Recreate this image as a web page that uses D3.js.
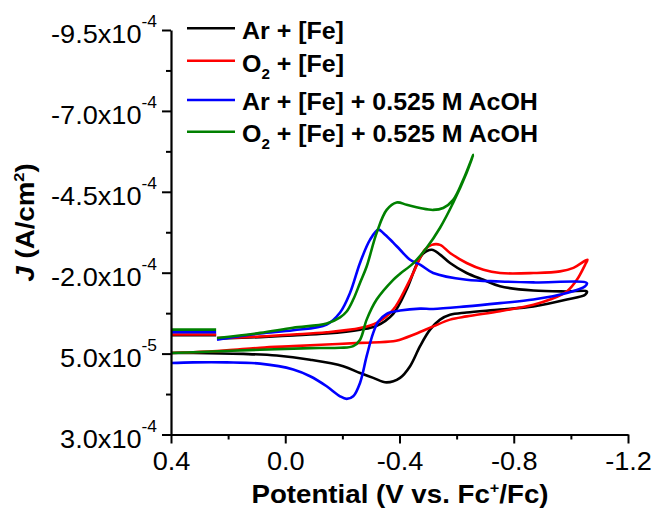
<!DOCTYPE html>
<html>
<head>
<meta charset="utf-8">
<script src="https://cdn.jsdelivr.net/npm/d3@7"></script>
<style>
  html, body { margin: 0; padding: 0; background: #fff; }
  svg { display: block; font-family: "Liberation Sans", Arial, sans-serif; }
</style>
</head>
<body>
<svg id="chart" width="656" height="508"></svg>
<script>
// ---------- data (V vs Fc+/Fc, J in A/cm^2) ----------
const xTicks = [0.4, 0.0, -0.4, -0.8, -1.2];
const xTickLabels = ["0.4", "0.0", "-0.4", "-0.8", "-1.2"];
const xMinorTicks = [0.2, -0.2, -0.6, -1.0];
const yTicks = [-9.5e-4, -7.0e-4, -4.5e-4, -2.0e-4, 5.0e-5, 3.0e-4];
const yTickMantissas = ["-9.5", "-7.0", "-4.5", "-2.0", "5.0", "3.0"];
const yTickExponents = ["-4", "-4", "-4", "-4", "-5", "-4"];
const yMinorTicks = [-8.25e-4, -5.75e-4, -3.25e-4, -0.75e-4, 1.75e-4];

const seriesNames = ["Ar + [Fe]", "O2 + [Fe]", "Ar + [Fe] + 0.525 M AcOH", "O2 + [Fe] + 0.525 M AcOH"];
const seriesColors = ["#000000", "#ff0000", "#0000ff", "#008000"];

// short initial segments
const arFeStart   = [[0.400, -0.07e-4], [0.242, -0.07e-4]];
const o2FeStart   = [[0.400, -0.09e-4], [0.242, -0.09e-4]];
const arAcidStart = [[0.400, -0.16e-4], [0.242, -0.16e-4]];
const o2AcidStart = [[0.400, -0.24e-4], [0.242, -0.24e-4]];

const arFe = [
  [0.239, 0.04e-4], [0.088, -0.01e-4], [-0.028, -0.06e-4], [-0.145, -0.12e-4], [-0.262, -0.24e-4],
  [-0.320, -0.36e-4], [-0.378, -0.73e-4], [-0.425, -1.48e-4], [-0.460, -2.25e-4], [-0.483, -2.59e-4],
  [-0.513, -2.71e-4], [-0.542, -2.56e-4], [-0.577, -2.30e-4], [-0.635, -1.99e-4], [-0.694, -1.78e-4],
  [-0.752, -1.58e-4], [-0.869, -1.45e-4], [-0.986, -1.42e-4], [-1.056, -1.42e-4], [-1.050, -1.32e-4],
  [-0.986, -1.17e-4], [-0.869, -0.96e-4], [-0.752, -0.86e-4], [-0.635, -0.77e-4], [-0.577, -0.70e-4],
  [-0.542, -0.55e-4], [-0.507, -0.24e-4], [-0.472, 0.27e-4], [-0.437, 0.89e-4], [-0.402, 1.25e-4],
  [-0.355, 1.39e-4], [-0.308, 1.25e-4], [-0.262, 1.10e-4], [-0.203, 0.89e-4], [-0.087, 0.69e-4],
  [0.030, 0.56e-4], [0.147, 0.51e-4], [0.322, 0.48e-4], [0.400, 0.48e-4]
];
const o2Fe = [
  [0.239, 0.02e-4], [0.088, -0.03e-4], [-0.028, -0.09e-4], [-0.145, -0.16e-4], [-0.262, -0.29e-4],
  [-0.320, -0.45e-4], [-0.378, -0.86e-4], [-0.425, -1.58e-4], [-0.448, -1.99e-4], [-0.472, -2.46e-4],
  [-0.489, -2.71e-4], [-0.513, -2.86e-4], [-0.542, -2.86e-4], [-0.577, -2.61e-4], [-0.635, -2.30e-4],
  [-0.694, -2.09e-4], [-0.752, -1.99e-4], [-0.869, -1.99e-4], [-0.962, -2.04e-4], [-1.009, -2.15e-4],
  [-1.058, -2.40e-4], [-1.050, -2.25e-4], [-1.021, -1.78e-4], [-0.986, -1.42e-4], [-0.927, -1.17e-4],
  [-0.869, -1.01e-4], [-0.752, -0.81e-4], [-0.635, -0.65e-4], [-0.577, -0.55e-4], [-0.518, -0.34e-4],
  [-0.460, -0.12e-4], [-0.402, 0.07e-4], [-0.378, 0.12e-4], [-0.262, 0.17e-4], [-0.145, 0.22e-4],
  [-0.028, 0.27e-4], [0.088, 0.32e-4], [0.205, 0.40e-4], [0.322, 0.46e-4], [0.400, 0.48e-4]
];
const arAcid = [
  [0.239, 0.07e-4], [0.088, -0.12e-4], [-0.028, -0.22e-4], [-0.145, -0.40e-4], [-0.192, -0.77e-4],
  [-0.227, -1.38e-4], [-0.262, -2.31e-4], [-0.297, -3.02e-4], [-0.326, -3.33e-4], [-0.343, -3.23e-4],
  [-0.378, -2.93e-4], [-0.402, -2.71e-4], [-0.437, -2.40e-4], [-0.472, -2.25e-4], [-0.518, -1.99e-4],
  [-0.635, -1.78e-4], [-0.752, -1.73e-4], [-0.869, -1.70e-4], [-1.056, -1.68e-4], [-1.050, -1.58e-4],
  [-0.986, -1.37e-4], [-0.869, -1.17e-4], [-0.752, -1.06e-4], [-0.635, -0.96e-4], [-0.518, -0.88e-4],
  [-0.472, -0.89e-4], [-0.402, -0.83e-4], [-0.355, -0.73e-4], [-0.326, -0.49e-4], [-0.308, -0.14e-4],
  [-0.285, 0.58e-4], [-0.262, 1.40e-4], [-0.238, 1.82e-4], [-0.215, 1.90e-4], [-0.192, 1.82e-4],
  [-0.145, 1.51e-4], [-0.087, 1.20e-4], [-0.028, 0.99e-4], [0.088, 0.81e-4], [0.205, 0.77e-4],
  [0.322, 0.77e-4], [0.400, 0.79e-4]
];
const o2Acid = [
  [0.239, 0.02e-4], [0.088, -0.14e-4], [-0.027, -0.30e-4], [-0.145, -0.43e-4], [-0.192, -0.62e-4],
  [-0.215, -0.80e-4], [-0.238, -1.17e-4], [-0.262, -1.69e-4], [-0.285, -2.19e-4], [-0.320, -3.23e-4],
  [-0.355, -3.94e-4], [-0.390, -4.17e-4], [-0.425, -4.10e-4], [-0.472, -4.00e-4], [-0.518, -3.94e-4],
  [-0.553, -4.00e-4], [-0.588, -4.25e-4], [-0.623, -4.87e-4], [-0.658, -5.64e-4], [-0.635, -5.09e-4],
  [-0.588, -4.16e-4], [-0.542, -3.39e-4], [-0.495, -2.77e-4], [-0.447, -2.28e-4], [-0.402, -1.97e-4],
  [-0.378, -1.78e-4], [-0.320, -1.17e-4], [-0.285, -0.55e-4], [-0.262, 0.07e-4], [-0.238, 0.27e-4],
  [-0.192, 0.32e-4], [-0.087, 0.33e-4], [0.088, 0.38e-4], [0.323, 0.46e-4], [0.400, 0.48e-4]
];

const seriesStarts = [arFeStart, o2FeStart, arAcidStart, o2AcidStart];
const seriesMain = [arFe, o2Fe, arAcid, o2Acid];

// ---------- drawing ----------
const STRETCH = 1.085;
function stretch(sel) {
  sel.each(function () {
    const w = this.getComputedTextLength();
    d3.select(this).attr("textLength", w * STRETCH).attr("lengthAdjust", "spacingAndGlyphs");
  });
}

const svg = d3.select("#chart");
const x = d3.scaleLinear().domain([0.4, -1.2]).range([171, 628]);
const y = d3.scaleLinear().domain([-9.5e-4, 3.0e-4]).range([30, 434.5]);

// curves
const line = d3.line().x(d => x(d[0])).y(d => y(d[1])).curve(d3.curveCatmullRom.alpha(0.5));
const curves = svg.append("g");
seriesMain.forEach((s, i) => {
  curves.append("path").attr("d", line(seriesStarts[i])).attr("fill", "none")
    .attr("stroke", seriesColors[i]).attr("stroke-width", 2.6);
  curves.append("path").attr("d", line(s)).attr("fill", "none")
    .attr("stroke", seriesColors[i]).attr("stroke-width", 2.6).attr("stroke-linejoin", "round");
});

// axes
const xAxisG = svg.append("g").attr("transform", "translate(0,434.5)");
xAxisG.call(d3.axisBottom(x).tickValues(xTicks).tickSize(9).tickSizeOuter(0)
  .tickFormat((d, i) => xTickLabels[i]));
xAxisG.append("g").call(d3.axisBottom(x).tickValues(xMinorTicks).tickSize(5).tickFormat(""))
  .select(".domain").remove();
xAxisG.selectAll(".tick text").attr("y", 35.5).attr("dy", null)
  .attr("font-size", 25).attr("fill", "#000").attr("font-family", "Liberation Sans, Arial, sans-serif");

const yAxisG = svg.append("g").attr("transform", "translate(171,0)");
yAxisG.call(d3.axisLeft(y).tickValues(yTicks).tickSize(9).tickSizeOuter(0).tickFormat(""));
yAxisG.append("g").call(d3.axisLeft(y).tickValues(yMinorTicks).tickSize(5).tickFormat(""))
  .select(".domain").remove();
yAxisG.selectAll(".tick text").remove();

svg.selectAll(".domain").attr("stroke", "#000").attr("stroke-width", 2.2);
svg.selectAll(".tick line").attr("stroke", "#000").attr("stroke-width", 2);

// y tick labels with superscript exponents
const yLab = svg.append("g").attr("font-size", 25).attr("fill", "#000");
yTicks.forEach((v, i) => {
  const t = yLab.append("text").attr("x", 157).attr("y", y(v) + 13).attr("text-anchor", "end");
  t.append("tspan").text(yTickMantissas[i] + "x10");
  t.append("tspan").attr("font-size", 16).attr("dy", -16).text(yTickExponents[i]);
});
stretch(yLab.selectAll("text"));
stretch(xAxisG.selectAll(".tick text"));

// axis titles
const xt = svg.append("text").attr("x", 400).attr("y", 503).attr("text-anchor", "middle")
  .attr("font-size", 25.5).attr("font-weight", "bold").attr("fill", "#000");
xt.append("tspan").text("Potential (V vs. Fc");
xt.append("tspan").attr("font-size", 15).attr("dy", -10).text("+");
xt.append("tspan").attr("dy", 10).text("/Fc)");
stretch(xt);

const yt = svg.append("text").attr("transform", "rotate(-90)").attr("x", -222.5).attr("y", 34)
  .attr("text-anchor", "middle").attr("font-size", 25.5).attr("font-weight", "bold").attr("fill", "#000");
yt.append("tspan").attr("font-style", "italic").text("J");
yt.append("tspan").text(" (A/cm");
yt.append("tspan").attr("font-size", 15).attr("dy", -10).text("2");
yt.append("tspan").attr("dy", 10).text(")");
stretch(yt);

// legend
const legendLineY = [28.3, 60.7, 100, 131.7];
const legendTextY = [39.3, 71.7, 110, 141.7];
const leg = svg.append("g");
seriesNames.forEach((name, i) => {
  leg.append("line").attr("x1", 187).attr("x2", 235).attr("y1", legendLineY[i]).attr("y2", legendLineY[i])
    .attr("stroke", seriesColors[i]).attr("stroke-width", 2.6);
  const t = leg.append("text").attr("x", 242).attr("y", legendTextY[i])
    .attr("font-size", 23).attr("font-weight", "bold").attr("fill", "#000");
  if (name.startsWith("O2")) {
    t.append("tspan").text("O");
    t.append("tspan").attr("font-size", 14).attr("dy", 7).text("2");
    t.append("tspan").attr("dy", -7).text(name.slice(2));
  } else {
    t.append("tspan").text(name);
  }
});
stretch(leg.selectAll("text"));
</script>
</body>
</html>
